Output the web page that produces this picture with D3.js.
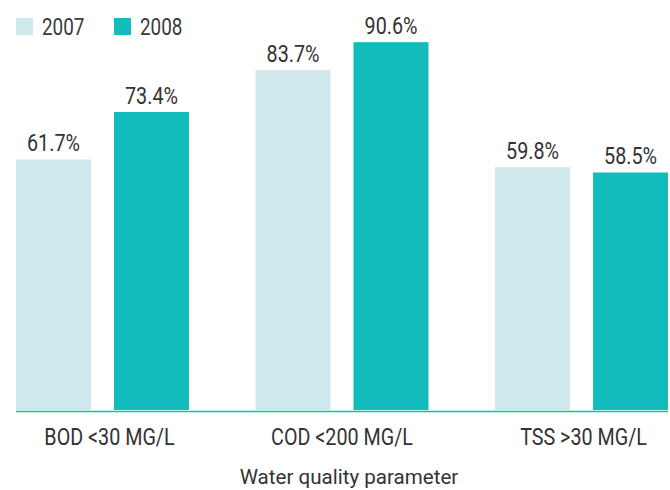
<!DOCTYPE html>
<html>
<head>
<meta charset="utf-8">
<script src="https://cdn.jsdelivr.net/npm/d3@7"></script>
<style>
  html, body { margin: 0; padding: 0; background: #fff; }
  svg { display: block; }
  text { font-family: "Roboto", "Liberation Sans", sans-serif; fill: #333; }
</style>
</head>
<body>
<svg id="chart" width="670" height="490"></svg>
<script>
const categories = ["BOD <30 MG/L", "COD <200 MG/L", "TSS >30 MG/L"];
const seriesNames = ["2007", "2008"];
const values2007 = [61.7, 83.7, 59.8];
const values2008 = [73.4, 90.6, 58.5];
const seriesColors = ["#cfe8eb", "#13bcbc"];
const xTitle = "Water quality parameter";

const SX = 0.84; // horizontal condensing of text
const svg = d3.select("#chart");
const baseY = 410;

const x0 = d3.scaleBand().domain(categories).range([16, 668]).paddingInner(0.278).paddingOuter(0);
const x1 = d3.scaleBand().domain(seriesNames).range([0, x0.bandwidth()]).paddingInner(0.235).paddingOuter(0);
const y = d3.scaleLinear().domain([0, 100]).range([baseY, 4]);
const color = d3.scaleOrdinal().domain(seriesNames).range(seriesColors);

const data = categories.map((c, i) => ({
  cat: c,
  vals: [{ s: "2007", v: values2007[i] }, { s: "2008", v: values2008[i] }]
}));

const groups = svg.selectAll("g.grp").data(data).join("g")
  .attr("class", "grp")
  .attr("transform", d => `translate(${x0(d.cat)},0)`);

groups.selectAll("rect").data(d => d.vals).join("rect")
  .attr("x", d => x1(d.s))
  .attr("width", x1.bandwidth())
  .attr("y", d => y(d.v))
  .attr("height", d => y(0) - y(d.v))
  .attr("fill", d => color(d.s));

groups.selectAll("text.val").data(d => d.vals).join("text")
  .attr("class", "val")
  .attr("transform", d => `translate(${x1(d.s) + x1.bandwidth() / 2},${y(d.v) - 8}) scale(${SX},1)`)
  .attr("text-anchor", "middle")
  .style("font-size", "23.5px")
  .text(d => d.v.toFixed(1) + "%");

// baseline axis
const xAxis = d3.axisBottom(x0).tickSize(0).tickPadding(0);
const axisG = svg.append("g").attr("transform", `translate(0,${baseY + 1.5})`).call(xAxis);
axisG.select(".domain").attr("stroke", "#13bcbc").attr("stroke-width", 1.6).attr("d", "M16,0H668");
const dxs = [7, 0, 2];
axisG.selectAll(".tick text")
  .attr("x", null).attr("y", null).attr("dy", null)
  .attr("transform", (d, i) => `translate(${dxs[i]},33.5) scale(${SX},1)`)
  .style("font-size", "23.5px")
  .style("fill", "#333")
  .style("font-family", "Roboto, 'Liberation Sans', sans-serif");

svg.append("text")
  .attr("transform", `translate(349,484) scale(0.98,1)`)
  .attr("text-anchor", "middle")
  .style("font-size", "21px")
  .text(xTitle);

// legend
const legend = svg.append("g").selectAll("g").data(seriesNames).join("g")
  .attr("transform", (d, i) => `translate(${16 + i * 98},18)`);
legend.append("rect").attr("width", 17).attr("height", 17).attr("fill", d => color(d));
legend.append("text")
  .attr("transform", `translate(26,16.5) scale(0.77,1)`)
  .style("font-size", "24.5px").style("fill", "#3a3a3a").text(d => d);
</script>
</body>
</html>
